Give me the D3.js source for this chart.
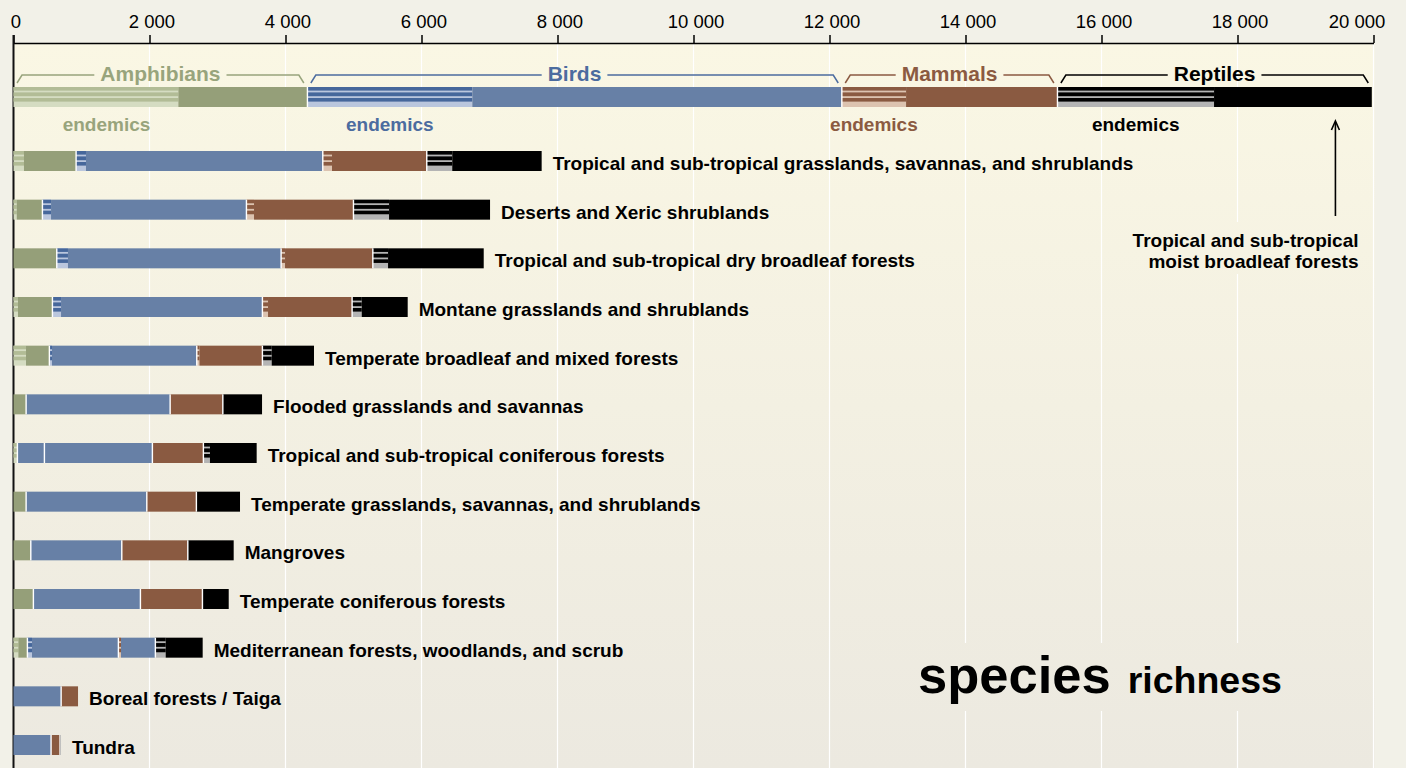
<!DOCTYPE html>
<html><head><meta charset="utf-8">
<script src="https://cdn.jsdelivr.net/npm/d3@7"></script>
<style>
html,body{margin:0;padding:0;background:#f2f1e8;}
svg{display:block;font-family:"Liberation Sans",Arial,Helvetica,sans-serif;}
</style></head><body>
<svg id="c" width="1406" height="768"></svg>
<script>
// ---------------- data ----------------
const biomes = [
  "Tropical and sub-tropical grasslands, savannas, and shrublands",
  "Deserts and Xeric shrublands",
  "Tropical and sub-tropical dry broadleaf forests",
  "Montane grasslands and shrublands",
  "Temperate broadleaf and mixed forests",
  "Flooded grasslands and savannas",
  "Tropical and sub-tropical coniferous forests",
  "Temperate grasslands, savannas, and shrublands",
  "Mangroves",
  "Temperate coniferous forests",
  "Mediterranean forests, woodlands, and scrub",
  "Boreal forests / Taiga",
  "Tundra"
];
const taxa = ["Amphibians", "Birds", "Mammals", "Reptiles"];

const amphibians        = [919, 424, 635, 571, 526, 184,   56,  184,  253,  291,  203,   0,   0];
const amphibiansEndemic = [154,  47,   0,  66, 184,   0,   56,    0,    0,    0,   71,   0,   0];
const birds             = [3628, 3000, 3299, 3088, 2168, 2118, 1985, 1775, 1338, 1574, 1338, 699, 551];
const birdsEndemic      = [147,  128,  166,  128,   40,    0,  397,    0,    0,    0,   69,   0,   0];
const mammals           = [1529, 1574, 1349, 1319, 965, 775, 750, 729, 971, 912, 544, 250, 132];
const mammalsEndemic    = [137,  113,   59,   84,  40,   0,   0,   0,   0,   0,  40,   0,   0];
const reptiles          = [1691, 2010, 1632, 819, 760, 578, 785, 643, 676, 388, 697, 0, 15];
const reptilesEndemic   = [376,  525,  225, 143, 138,   0,  98,   0,   0,   0, 153, 0, 0];

// all terrestrial species (top bar), per taxon
const allTotals   = [4321, 7859, 3171, 4624];
const allEndemics = [2424, 2426,  946, 2304];

// drawing quirks of the original
const solidEndemic = [["Tropical and sub-tropical coniferous forests", "Birds"]];
const recolored    = [["Mediterranean forests, woodlands, and scrub", "Mammals", "Birds"]];

const tickValues = [0, 2000, 4000, 6000, 8000, 10000, 12000, 14000, 16000, 18000, 20000];

// ---------------- styles ----------------
const base   = {Amphibians:"#959f79", Birds:"#6780a6", Mammals:"#8a5a41", Reptiles:"#000000"};
const light  = {Amphibians:"#d5dcc2", Birds:"#bac6dd", Mammals:"#dcc3b0", Reptiles:"#b4b4b4"};
const stripe = {Amphibians:"#b2bc96", Birds:"#46679b", Mammals:"#8a5a41", Reptiles:"#000000"};
const labelCol = {Amphibians:"#98a47c", Birds:"#4c6c9f", Mammals:"#8b5a41", Reptiles:"#000000"};
const stripeBands = [[0,3.6],[5.4,9.2],[11,14.6]];

const svg = d3.select("#c");
const W = 1406, H = 768, axisY = 43, barH = 20;
const x = d3.scaleLinear().domain([0, 20000]).range([13.5, 1373.5]);
const y = d3.scalePoint().domain(biomes).range([151, 735]);
const topBarY = 87;

// gradient
const defs = svg.append("defs");
const g = defs.append("linearGradient").attr("id","bg").attr("gradientUnits","userSpaceOnUse")
  .attr("x1",0).attr("x2",0).attr("y1",axisY).attr("y2",H);
g.append("stop").attr("offset","0").attr("stop-color","#faf7e4");
g.append("stop").attr("offset","1").attr("stop-color","#ece9e0");

svg.append("rect").attr("x",0).attr("y",0).attr("width",W).attr("height",H).attr("fill","#f2f1e8");
svg.append("rect").attr("x",x(0)).attr("y",axisY).attr("width",x(20000)-x(0)+1).attr("height",H-axisY).attr("fill","url(#bg)");

// gridlines
svg.append("g").selectAll("line").data(tickValues.filter(d=>d>0)).join("line")
  .attr("x1",d=>x(d)).attr("x2",d=>x(d)).attr("y1",axisY).attr("y2",H)
  .attr("stroke","#ffffff").attr("stroke-width",1.2);

// text backdrops (hide gridlines behind notes)
svg.append("rect").attr("x",1120).attr("y",222).attr("width",250).attr("height",52).attr("fill","url(#bg)");
svg.append("rect").attr("x",905).attr("y",643).attr("width",390).attr("height",68).attr("fill","url(#bg)");

// axis
const fmt = d => d3.format(",")(d).replace(/,/g, " ");
const axis = svg.append("g").attr("transform",`translate(0,${axisY})`)
  .call(d3.axisTop(x).tickValues(tickValues).tickSize(8).tickPadding(7).tickFormat(fmt).tickSizeOuter(0));
axis.select(".domain").attr("stroke","#000").attr("stroke-width",1.5);
axis.selectAll(".tick line").attr("stroke","#000").attr("stroke-width",1.5);
axis.selectAll(".tick text").attr("font-size",18.5).attr("fill","#000")
  .attr("font-family","'Liberation Sans',Arial,sans-serif")
  .attr("dx", d => d === 20000 ? -17 : 2);
svg.append("line").attr("x1",x(0)).attr("x2",x(0)).attr("y1",axisY-8).attr("y2",H)
  .attr("stroke","#111").attr("stroke-width",2);

// ---------------- segments ----------------
function buildSegments(totals, endemics, name) {
  const segs = [];
  let s = 0;
  taxa.forEach((t, i) => {
    const T = totals[i], E = endemics[i];
    if (T <= 0) return;
    const solid = solidEndemic.some(q => q[0] === name && q[1] === t);
    const rc = recolored.find(q => q[0] === name && q[1] === t);
    if (E > 0) segs.push({taxon:t, v0:s, v1:s+E, endemic:!solid, split:solid, first:true});
    if (T - E > 0) segs.push({taxon:t, v0:s+E, v1:s+T, endemic:false, color: rc ? base[rc[2]] : base[t], first: E <= 0, splitAfter: solid});
    s += T;
  });
  return segs;
}

function drawBar(gSel, segs, y0) {
  segs.forEach(d => {
    const x0 = x(d.v0), w = x(d.v1) - x(d.v0);
    if (d.endemic) {
      gSel.append("rect").attr("x",x0).attr("y",y0).attr("width",w).attr("height",barH).attr("fill",light[d.taxon]);
      gSel.selectAll(null).data(stripeBands).join("rect")
        .attr("x",x0).attr("width",w).attr("y",b=>y0+b[0]).attr("height",b=>b[1]-b[0])
        .attr("fill",stripe[d.taxon]);
    } else {
      gSel.append("rect").attr("x",x0).attr("y",y0).attr("width",w).attr("height",barH)
        .attr("fill", d.color || base[d.taxon]);
    }
  });
  // white separators at taxon boundaries
  segs.forEach((d, i) => {
    if (i === 0) return;
    if (d.first || d.splitAfter) {
      gSel.append("rect").attr("x",x(d.v0)-0.6).attr("y",y0).attr("width",1.4).attr("height",barH).attr("fill","#ffffff");
    }
  });
}

// top bar
const topG = svg.append("g");
const topSegs = buildSegments(allTotals, allEndemics, "all");
drawBar(topG, topSegs, topBarY);

// brackets + labels
let cum = 0;
taxa.forEach((t, i) => {
  const s = cum, e = cum + allTotals[i];
  cum = e;
  const xs = x(s), xe = x(e), mid = (xs + xe) / 2;
  const txt = topG.append("text").attr("x",mid).attr("y",81).attr("text-anchor","middle")
    .attr("font-size",21).attr("font-weight","bold").attr("fill",labelCol[t]).text(t);
  const tw = txt.node().getComputedTextLength();
  const l = mid - tw/2 - 6, r = mid + tw/2 + 6;
  topG.append("path")
    .attr("d",`M${xs+3.5},83 L${xs+8.5},75 H${l} M${r},75 H${xe-8.5} L${xe-3.5},83`)
    .attr("fill","none").attr("stroke",labelCol[t]).attr("stroke-width",1.5);
  const em = (xs + x(s + allEndemics[i])) / 2;
  topG.append("text").attr("x",Math.max(em, x(0)+93)).attr("y",131).attr("text-anchor","middle")
    .attr("font-size",19).attr("font-weight","bold").attr("fill",labelCol[t]).text("endemics");
});

// biome bars
biomes.forEach((b, i) => {
  const gRow = svg.append("g");
  const tot = [amphibians[i], birds[i], mammals[i], reptiles[i]];
  const end = [amphibiansEndemic[i], birdsEndemic[i], mammalsEndemic[i], reptilesEndemic[i]];
  const segs = buildSegments(tot, end, b);
  drawBar(gRow, segs, y(b));
  const sum = d3.sum(tot);
  gRow.append("text").attr("x",x(sum)+11).attr("y",y(b)+19).attr("font-size",19)
    .attr("font-weight","bold").attr("fill","#000").text(b);
});

// annotation: moist broadleaf forests
const ax = x(19440);
svg.append("line").attr("x1",ax).attr("x2",ax).attr("y1",216).attr("y2",122).attr("stroke","#000").attr("stroke-width",1.6);
svg.append("path").attr("d",`M${ax-4},130 L${ax},121 L${ax+4},130`).attr("fill","none").attr("stroke","#000").attr("stroke-width",1.6);
const ann = svg.append("text").attr("text-anchor","end").attr("font-size",19).attr("font-weight","bold").attr("fill","#000");
ann.append("tspan").attr("x",1358.5).attr("y",247).text("Tropical and sub-tropical");
ann.append("tspan").attr("x",1358.5).attr("y",268).text("moist broadleaf forests");

// title
const title = svg.append("text").attr("x",918).attr("y",693).attr("font-weight","bold").attr("fill","#000");
title.append("tspan").attr("font-size",52.5).text("species");
title.append("tspan").attr("font-size",37.5).attr("dx",17).text("richness");
</script></body></html>
